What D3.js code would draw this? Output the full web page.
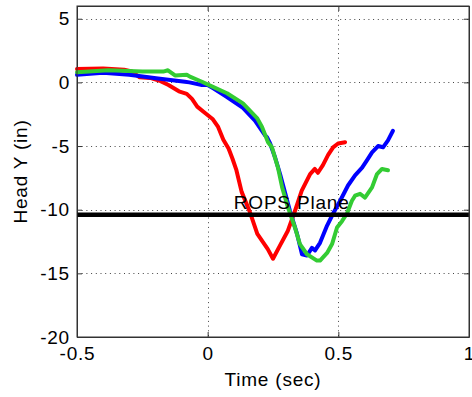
<!DOCTYPE html>
<html>
<head>
<meta charset="utf-8">
<script src="https://cdn.jsdelivr.net/npm/d3@7"></script>
<style>
  body { margin: 0; background: #fff; }
  svg { display: block; }
  text { font-family: "Liberation Sans", Arial, sans-serif; fill: #000; }
</style>
</head>
<body>
<svg id="chart" width="472" height="397"></svg>
<script>
// ---- Data ----
const xTicks = [-0.5, 0, 0.5, 1];
const yTicks = [-20, -15, -10, -5, 0, 5];
const xTickLabels = ["-0.5", "0", "0.5", "1"];
const yTickLabels = ["-20", "-15", "-10", "-5", "0", "5"];

const redTime = [-0.5, -0.4, -0.32, -0.29, -0.26, -0.22, -0.18, -0.15, -0.11, -0.08, -0.06, -0.04, -0.01, 0.02, 0.04, 0.06, 0.08, 0.095, 0.11, 0.13, 0.16, 0.19, 0.23, 0.25, 0.277, 0.307, 0.334, 0.36, 0.392, 0.41, 0.422, 0.441, 0.461, 0.48, 0.499, 0.526];
const redY    = [1.05, 1.1, 1.0, 0.85, 0.4, 0.35, 0.1, -0.2, -0.7, -0.9, -1.3, -1.9, -2.4, -2.9, -3.5, -4.5, -5.2, -6.0, -6.9, -8.6, -10.1, -11.9, -13.1, -13.85, -12.8, -11.65, -10.1, -8.5, -7.2, -6.8, -7.1, -6.5, -5.7, -5.1, -4.8, -4.7];

const blueTime = [-0.5, -0.4, -0.3, -0.19, -0.087, -0.07, -0.022, 0.0, 0.02, 0.074, 0.135, 0.181, 0.219, 0.227, 0.239, 0.258, 0.277, 0.296, 0.315, 0.342, 0.361, 0.38, 0.399, 0.411, 0.43, 0.457, 0.48, 0.507, 0.537, 0.564, 0.591, 0.61, 0.629, 0.652, 0.671, 0.69, 0.709];
const blueY    = [0.6, 0.75, 0.6, 0.3, 0.05, 0.0, -0.2, -0.2, -0.45, -1.15, -2.0, -3.0, -4.15, -4.3, -4.8, -5.9, -7.2, -8.65, -10.1, -11.9, -13.5, -13.6, -13.0, -13.2, -12.6, -11.25, -10.3, -9.3, -8.1, -7.3, -6.7, -6.1, -5.5, -5.0, -5.1, -4.55, -3.8];

const greenTime = [-0.5, -0.38, -0.25, -0.17, -0.152, -0.125, -0.08, -0.068, -0.022, 0.02, 0.074, 0.135, 0.189, 0.208, 0.231, 0.246, 0.269, 0.285, 0.307, 0.334, 0.353, 0.38, 0.418, 0.43, 0.457, 0.476, 0.495, 0.514, 0.533, 0.552, 0.564, 0.583, 0.602, 0.629, 0.648, 0.667, 0.69];
const greenY    = [0.8, 0.95, 0.85, 0.85, 0.95, 0.55, 0.6, 0.45, 0.05, -0.35, -0.85, -1.65, -2.8, -3.5, -4.7, -5.1, -6.7, -8.25, -9.8, -11.4, -12.7, -13.5, -14.0, -14.0, -13.4, -12.7, -11.4, -10.9, -10.3, -9.3, -8.9, -8.75, -9.05, -8.25, -7.2, -6.8, -6.9];

const ropsY = -10.4;
const ropsLabel = "ROPS Plane";
const ropsLabelPos = [0.1, -9.5];
const xDomain = [-0.5, 1];
const yDomain = [-20, 6];
const xLabel = "Time (sec)";
const yLabel = "Head Y (in)";

// ---- Layout ----
const FS = 19, LS = "0.8px";
const svg = d3.select("#chart");
const L = 77, R = 469, T = 6, B = 337;
const x = d3.scaleLinear().domain(xDomain).range([L, R]);
const y = d3.scaleLinear().domain(yDomain).range([B, T]);

// grid
const grid = svg.append("g").attr("stroke", "#444").attr("stroke-width", 1).attr("stroke-dasharray", "1,3.7");
xTicks.filter(t => t > xDomain[0] && t < xDomain[1]).forEach(t => {
  grid.append("line").attr("x1", Math.round(x(t)) + 0.5).attr("x2", Math.round(x(t)) + 0.5).attr("y1", T).attr("y2", B);
});
yTicks.filter(t => t > yDomain[0] && t < yDomain[1]).forEach(t => {
  grid.append("line").attr("x1", L).attr("x2", R).attr("y1", Math.round(y(t)) + 0.5).attr("y2", Math.round(y(t)) + 0.5);
});

// axes via d3 axis generators
const fmtX = d => xTickLabels[xTicks.indexOf(d)];
const fmtY = d => yTickLabels[yTicks.indexOf(d)];

const axB = svg.append("g").attr("transform", `translate(0,${B})`)
  .call(d3.axisBottom(x).tickValues(xTicks).tickFormat(fmtX).tickSizeInner(-5).tickSizeOuter(0).tickPadding(12));
const axL = svg.append("g").attr("transform", `translate(${L},0)`)
  .call(d3.axisLeft(y).tickValues(yTicks).tickFormat(fmtY).tickSizeInner(-5).tickSizeOuter(0).tickPadding(12));
const axT = svg.append("g").attr("transform", `translate(0,${T})`)
  .call(d3.axisTop(x).tickValues(xTicks).tickFormat("").tickSizeInner(-5).tickSizeOuter(0));
const axR = svg.append("g").attr("transform", `translate(${R},0)`)
  .call(d3.axisRight(y).tickValues(yTicks).tickFormat("").tickSizeInner(-5).tickSizeOuter(0));
[axB, axL, axT, axR].forEach(a => {
  a.select(".domain").attr("stroke", "#333");
  a.selectAll(".tick line").attr("stroke", "#333");
  a.selectAll("text").attr("font-size", FS).attr("letter-spacing", LS)
    .attr("font-family", "Liberation Sans, Arial, sans-serif").attr("fill", "#000");
});
axB.selectAll(".tick text").attr("dy", "0.71em").attr("y", 10);
axL.selectAll(".tick text").attr("x", -7);

// curves
const line = d3.line().x(d => x(d[0])).y(d => y(d[1]));
const series = [
  {t: redTime, v: redY, color: "#ff0000"},
  {t: blueTime, v: blueY, color: "#0000ff"},
  {t: greenTime, v: greenY, color: "#33cc33"}
];
series.forEach(s => {
  svg.append("path")
    .datum(s.t.map((t, i) => [t, s.v[i]]))
    .attr("d", line)
    .attr("fill", "none")
    .attr("stroke", s.color)
    .attr("stroke-width", 4)
    .attr("stroke-linejoin", "round")
    .attr("stroke-linecap", "round");
});

// ROPS plane line
svg.append("line")
  .attr("x1", L).attr("x2", R)
  .attr("y1", y(ropsY)).attr("y2", y(ropsY))
  .attr("stroke", "#000").attr("stroke-width", 4.5);

svg.append("text")
  .attr("x", x(ropsLabelPos[0])).attr("y", y(ropsLabelPos[1]))
  .attr("dy", "0.3em")
  .attr("font-size", FS).attr("letter-spacing", LS)
  .text(ropsLabel);

// box
svg.append("rect").attr("x", L).attr("y", T).attr("width", R - L).attr("height", B - T)
  .attr("fill", "none").attr("stroke", "#333").attr("stroke-width", 1);

// axis labels
svg.append("text").attr("x", (L + R) / 2).attr("y", 386).attr("text-anchor", "middle")
  .attr("font-size", FS).attr("letter-spacing", LS).text(xLabel);
svg.append("text").attr("transform", `translate(27,${(T + B) / 2}) rotate(-90)`).attr("text-anchor", "middle")
  .attr("font-size", FS).attr("letter-spacing", LS).text(yLabel);
</script>
</body>
</html>
